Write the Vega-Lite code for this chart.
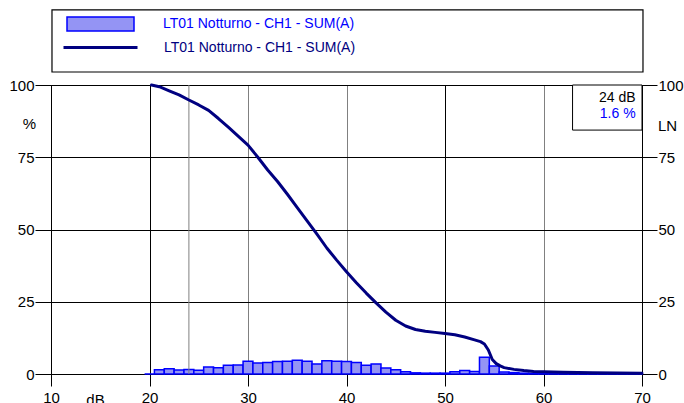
{
  "$schema": "https://vega.github.io/schema/vega-lite/v6.json",
  "width": 591,
  "height": 289,
  "autosize": {"type": "none"},
  "padding": {"left": 51, "top": 85, "right": 42, "bottom": 29},
  "background": "white",
  "config": {
    "view": {"stroke": "black", "strokeWidth": 1},
    "font": "Liberation Sans",
    "axis": {"labelFont": "Liberation Sans", "titleFont": "Liberation Sans", "labelColor": "black", "titleColor": "black", "tickColor": "black", "domainColor": "black", "titleFontWeight": "normal", "labelFontSize": 15, "titleFontSize": 15, "gridOpacity": 1, "tickWidth": 1, "gridWidth": 1}
  },
  "datasets": {
    "hist": [
      {"from_db": 19.5, "to_db": 20.5, "pct": 0},
      {"from_db": 20.5, "to_db": 21.5, "pct": 1.5},
      {"from_db": 21.5, "to_db": 22.5, "pct": 1.8},
      {"from_db": 22.5, "to_db": 23.5, "pct": 1.4},
      {"from_db": 23.5, "to_db": 24.5, "pct": 1.6},
      {"from_db": 24.5, "to_db": 25.5, "pct": 1.3},
      {"from_db": 25.5, "to_db": 26.5, "pct": 2.4},
      {"from_db": 26.5, "to_db": 27.5, "pct": 2.2},
      {"from_db": 27.5, "to_db": 28.5, "pct": 3.0},
      {"from_db": 28.5, "to_db": 29.5, "pct": 3.1},
      {"from_db": 29.5, "to_db": 30.5, "pct": 4.4},
      {"from_db": 30.5, "to_db": 31.5, "pct": 3.8},
      {"from_db": 31.5, "to_db": 32.5, "pct": 4.0},
      {"from_db": 32.5, "to_db": 33.5, "pct": 4.3},
      {"from_db": 33.5, "to_db": 34.5, "pct": 4.4},
      {"from_db": 34.5, "to_db": 35.5, "pct": 4.8},
      {"from_db": 35.5, "to_db": 36.5, "pct": 4.4},
      {"from_db": 36.5, "to_db": 37.5, "pct": 3.5},
      {"from_db": 37.5, "to_db": 38.5, "pct": 4.6},
      {"from_db": 38.5, "to_db": 39.5, "pct": 4.4},
      {"from_db": 39.5, "to_db": 40.5, "pct": 4.3},
      {"from_db": 40.5, "to_db": 41.5, "pct": 4.0},
      {"from_db": 41.5, "to_db": 42.5, "pct": 3.0},
      {"from_db": 42.5, "to_db": 43.5, "pct": 3.5},
      {"from_db": 43.5, "to_db": 44.5, "pct": 2.1},
      {"from_db": 44.5, "to_db": 45.5, "pct": 1.5},
      {"from_db": 45.5, "to_db": 46.5, "pct": 0.8},
      {"from_db": 46.5, "to_db": 47.5, "pct": 0.4},
      {"from_db": 47.5, "to_db": 48.5, "pct": 0.3},
      {"from_db": 48.5, "to_db": 49.5, "pct": 0.3},
      {"from_db": 49.5, "to_db": 50.5, "pct": 0.3},
      {"from_db": 50.5, "to_db": 51.5, "pct": 0.8},
      {"from_db": 51.5, "to_db": 52.5, "pct": 1.2},
      {"from_db": 52.5, "to_db": 53.5, "pct": 0.9},
      {"from_db": 53.5, "to_db": 54.5, "pct": 5.8},
      {"from_db": 54.5, "to_db": 55.5, "pct": 2.8},
      {"from_db": 55.5, "to_db": 56.5, "pct": 0.7},
      {"from_db": 56.5, "to_db": 57.5, "pct": 0.5},
      {"from_db": 57.5, "to_db": 58.5, "pct": 0.3},
      {"from_db": 58.5, "to_db": 59.5, "pct": 0.2},
      {"from_db": 59.5, "to_db": 60.5, "pct": 0.1},
      {"from_db": 60.5, "to_db": 61.5, "pct": 0.1},
      {"from_db": 61.5, "to_db": 62.5, "pct": 0.1},
      {"from_db": 62.5, "to_db": 63.5, "pct": 0.1},
      {"from_db": 63.5, "to_db": 64.5, "pct": 0.05},
      {"from_db": 64.5, "to_db": 65.5, "pct": 0.05},
      {"from_db": 65.5, "to_db": 66.5, "pct": 0.05},
      {"from_db": 66.5, "to_db": 67.5, "pct": 0.05},
      {"from_db": 67.5, "to_db": 68.5, "pct": 0.05},
      {"from_db": 68.5, "to_db": 69.5, "pct": 0.05},
      {"from_db": 69.5, "to_db": 70, "pct": 0.05}
    ],
    "cum": [
      {"db": 20.2, "ln": 100},
      {"db": 21, "ln": 99.4},
      {"db": 22, "ln": 98},
      {"db": 23, "ln": 96.6},
      {"db": 24, "ln": 94.8},
      {"db": 25, "ln": 93.1},
      {"db": 26, "ln": 91.2},
      {"db": 27, "ln": 88.4},
      {"db": 28, "ln": 85.4},
      {"db": 29, "ln": 82.3},
      {"db": 30, "ln": 79.2},
      {"db": 31, "ln": 75},
      {"db": 32, "ln": 70.6},
      {"db": 33, "ln": 66.6},
      {"db": 34, "ln": 62.2},
      {"db": 35, "ln": 57.6},
      {"db": 36, "ln": 53},
      {"db": 37, "ln": 48.4},
      {"db": 38, "ln": 43.6},
      {"db": 39, "ln": 39.4},
      {"db": 40, "ln": 35.4},
      {"db": 41, "ln": 31.6},
      {"db": 42, "ln": 28},
      {"db": 43, "ln": 24.6},
      {"db": 44, "ln": 21.4},
      {"db": 45, "ln": 18.6},
      {"db": 46, "ln": 16.6},
      {"db": 47, "ln": 15.4},
      {"db": 48, "ln": 14.8},
      {"db": 49, "ln": 14.4},
      {"db": 50, "ln": 14.0},
      {"db": 51, "ln": 13.6},
      {"db": 52, "ln": 12.8},
      {"db": 53, "ln": 11.8},
      {"db": 53.6, "ln": 11.2},
      {"db": 54, "ln": 10.4},
      {"db": 54.4, "ln": 8.3},
      {"db": 54.8, "ln": 5.0},
      {"db": 55.2, "ln": 3.6},
      {"db": 55.6, "ln": 2.8},
      {"db": 56, "ln": 2.2},
      {"db": 57, "ln": 1.6},
      {"db": 58, "ln": 1.2},
      {"db": 59, "ln": 0.9},
      {"db": 60, "ln": 0.8},
      {"db": 62, "ln": 0.6},
      {"db": 65, "ln": 0.45},
      {"db": 70, "ln": 0.3}
    ]
  },
  "layer": [
    {
      "data": {"name": "hist"},
      "mark": {"type": "rect", "stroke": "#0000ff", "strokeWidth": 1.5},
      "encoding": {
        "x": {
          "field": "from_db", "type": "quantitative",
          "scale": {"domain": [10, 70], "nice": false, "zero": false},
          "axis": {
            "values": [10, 20, 30, 40, 50, 60, 70],
            "title": "dB", "titleX": 44, "titleY": 30, "titleAlign": "center", "titleBaseline": "alphabetic",
            "tickSize": 12, "labelPadding": 4, "labelFlush": false, "labelOverlap": false,
            "grid": true,
            "gridColor": {"condition": {"test": "datum.value === 10 || datum.value === 20 || datum.value === 50 || datum.value === 70", "value": "black"}, "value": "#808080"}
          }
        },
        "x2": {"field": "to_db"},
        "y": {
          "field": "pct", "type": "quantitative",
          "scale": {"domain": [0, 100], "nice": false},
          "axis": {
            "orient": "left", "values": [0, 25, 50, 75, 100],
            "tickSize": 16, "labelPadding": 1, "grid": true, "gridColor": "black",
            "title": "%", "titleAngle": 0, "titleX": -22, "titleY": 43, "titleAlign": "center", "titleBaseline": "alphabetic"
          }
        },
        "y2": {"datum": 0},
        "fill": {
          "datum": "bars",
          "scale": {"range": ["#9494f4"]},
          "legend": {
            "orient": "none", "legendX": 15, "legendY": -95.5, "title": null, "padding": 0,
            "labelExpr": "'LT01 Notturno - CH1 - SUM(A)'",
            "symbolType": "M-1,-0.21H1V0.21H-1Z", "symbolSize": 4489,
            "symbolStrokeColor": "#0000ff", "symbolStrokeWidth": 1.5, "symbolOpacity": 1,
            "labelColor": "#0000ff", "labelFont": "Liberation Sans", "labelFontSize": 14, "labelOffset": 28, "labelLimit": 0
          }
        }
      }
    },
    {
      "data": {"values": [{}]},
      "mark": {"type": "rule", "color": "#808080", "strokeWidth": 1},
      "encoding": {"x": {"datum": 24, "type": "quantitative"}}
    },
    {
      "data": {"name": "cum"},
      "mark": {"type": "line", "strokeWidth": 3, "strokeJoin": "round", "strokeCap": "round"},
      "encoding": {
        "x": {"field": "db", "type": "quantitative"},
        "y": {
          "field": "ln", "type": "quantitative",
          "axis": {
            "orient": "right", "values": [0, 25, 50, 75, 100],
            "tickSize": 15, "labelPadding": 1, "grid": false,
            "title": "LN", "titleAngle": 0, "titleX": 25, "titleY": 45, "titleAlign": "center", "titleBaseline": "alphabetic"
          }
        },
        "stroke": {
          "datum": "line",
          "scale": {"range": ["#000080"]},
          "legend": {
            "orient": "none", "legendX": 11, "legendY": -76, "title": null, "padding": 0,
            "labelExpr": "'LT01 Notturno - CH1 - SUM(A)'",
            "symbolType": "stroke", "symbolSize": 5476, "symbolStrokeWidth": 3,
            "labelColor": "#000080", "labelFont": "Liberation Sans", "labelFontSize": 14, "labelOffset": 25, "labelLimit": 0
          }
        }
      }
    },
    {
      "data": {"values": [{}]},
      "mark": {"type": "rect", "fill": "white", "stroke": "black", "strokeWidth": 1},
      "encoding": {
        "x": {"datum": 62.95, "type": "quantitative"},
        "x2": {"datum": 70},
        "y": {"datum": 84.4, "type": "quantitative", "axis": null},
        "y2": {"datum": 100}
      }
    },
    {
      "data": {"values": [{}]},
      "mark": {"type": "text", "align": "right", "baseline": "alphabetic", "fontSize": 14, "font": "Liberation Sans", "color": "black"},
      "encoding": {
        "x": {"datum": 69.35, "type": "quantitative"},
        "y": {"datum": 94.0, "type": "quantitative", "axis": null},
        "text": {"value": "24 dB"}
      }
    },
    {
      "data": {"values": [{}]},
      "mark": {"type": "text", "align": "right", "baseline": "alphabetic", "fontSize": 14, "font": "Liberation Sans", "color": "#0000ff"},
      "encoding": {
        "x": {"datum": 69.35, "type": "quantitative"},
        "y": {"datum": 88.7, "type": "quantitative", "axis": null},
        "text": {"value": "1.6 %"}
      }
    },
    {
      "data": {"values": [{}]},
      "mark": {"type": "rect", "fill": null, "stroke": "black", "strokeWidth": 1.2},
      "encoding": {
        "x": {"datum": 10.1, "type": "quantitative"},
        "x2": {"datum": 70.1},
        "y": {"datum": 104.5, "type": "quantitative", "axis": null},
        "y2": {"datum": 126}
      }
    }
  ],
  "resolve": {"scale": {"y": "shared"}, "axis": {"y": "independent"}}
}
